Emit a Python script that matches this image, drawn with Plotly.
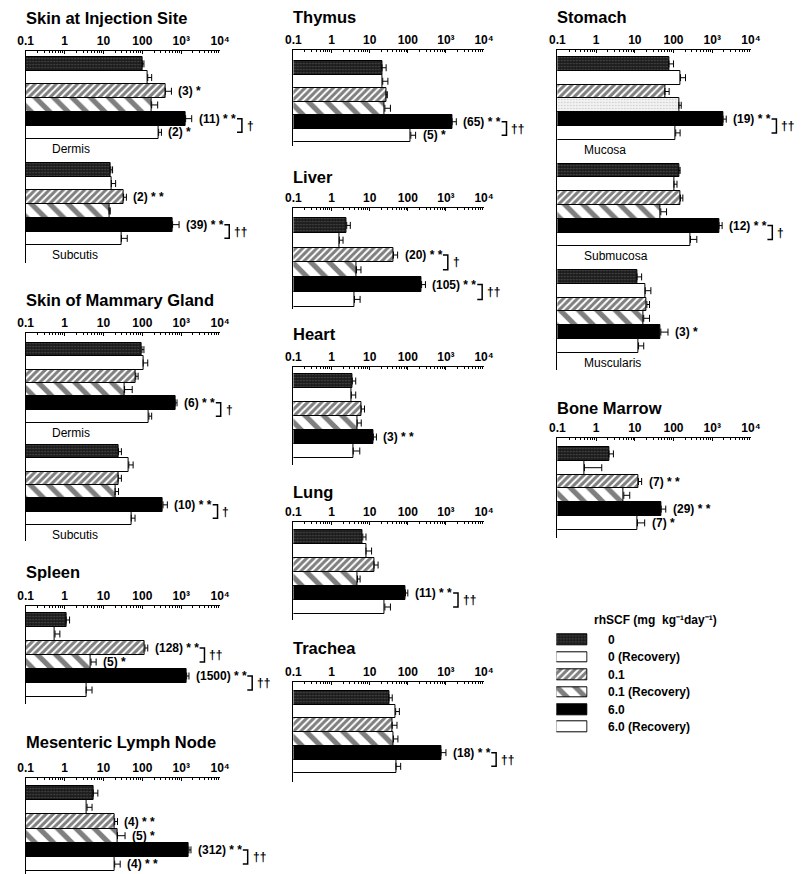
import math
import plotly.graph_objects as go

W, H = 802, 874
FONT = "Liberation Sans, Arial, Helvetica, sans-serif"

TREATMENTS = ["0", "0 (Recovery)", "0.1", "0.1 (Recovery)", "6.0", "6.0 (Recovery)"]
TICK_VALUES = [0.1, 1, 10, 100, 1000, 10000]
TICK_LABELS = ["0.1", "1", "10", "100", "10³", "10⁴"]

# ---- data: mean, upper end of error bar, significance notes ----
inj_dermis_mean = [100, 138, 390, 174, 1300, 263]
inj_dermis_err = [110, 174, 560, 248, 1860, 310]
inj_dermis_notes = ["", "", "(3) *", "", "(11) * *", "(2) *"]
inj_dermis_brackets = [(4, "†")]

inj_subcutis_mean = [15.5, 16, 33, 14, 600, 29]
inj_subcutis_err = [17.2, 20.6, 39, 15, 880, 41]
inj_subcutis_notes = ["", "", "(2) * *", "", "(39) * *", ""]
inj_subcutis_brackets = [(4, "††")]

mam_dermis_mean = [98, 105, 68, 35, 700, 148]
mam_dermis_err = [110, 138, 78, 55, 780, 174]
mam_dermis_notes = ["", "", "", "", "(6) * *", ""]
mam_dermis_brackets = [(4, "†")]

mam_subcutis_mean = [24.5, 45, 24, 20, 340, 52]
mam_subcutis_err = [29, 58, 29, 24.5, 440, 65]
mam_subcutis_notes = ["", "", "", "", "(10) * *", ""]
mam_subcutis_brackets = [(4, "†")]

spleen_mean = [1.1, 0.57, 117, 4.8, 1380, 3.6]
spleen_err = [1.35, 0.76, 138, 6.5, 1580, 5.1]
spleen_notes = ["", "", "(128) * *", "(5) *", "(1500) * *", ""]
spleen_brackets = [(2, "††"), (4, "††")]

mln_mean = [5.5, 3.8, 19.5, 23, 1580, 19.5]
mln_err = [7.2, 5.1, 23, 36, 1780, 27]
mln_notes = ["", "", "(4) * *", "(5) *", "(312) * *", "(4) * *"]
mln_brackets = [(4, "††")]

thymus_mean = [21, 22, 27, 25, 1450, 120]
thymus_err = [27, 30, 29, 35, 1870, 160]
thymus_notes = ["", "", "", "", "(65) * *", "(5) *"]
thymus_brackets = [(4, "††")]

liver_mean = [2.5, 1.6, 42, 4.5, 230, 4.0]
liver_err = [3.1, 2.0, 54, 5.9, 290, 5.6]
liver_notes = ["", "", "(20) * *", "", "(105) * *", ""]
liver_brackets = [(2, "†"), (4, "††")]

heart_mean = [3.5, 3.3, 6.0, 4.7, 12.5, 3.7]
heart_err = [4.3, 4.3, 7.3, 6.0, 15, 5.5]
heart_notes = ["", "", "", "", "(3) * *", ""]
heart_brackets = []

lung_mean = [6.6, 8.0, 13, 4.8, 87, 25]
lung_err = [8.0, 11.2, 16.6, 5.6, 100, 35]
lung_notes = ["", "", "", "", "(11) * *", ""]
lung_brackets = [(4, "††")]

trachea_mean = [32, 48, 39, 42, 740, 49]
trachea_err = [39, 60, 52, 55, 1000, 65]
trachea_notes = ["", "", "", "", "(18) * *", ""]
trachea_brackets = [(4, "††")]

sto_mucosa_mean = [76, 152, 60, 138, 1900, 114]
sto_mucosa_err = [100, 204, 77, 158, 2300, 148]
sto_mucosa_notes = ["", "", "", "", "(19) * *", ""]
sto_mucosa_brackets = [(4, "††")]

sto_submucosa_mean = [138, 103, 152, 47, 1500, 275]
sto_submucosa_err = [148, 123, 174, 66, 1800, 400]
sto_submucosa_notes = ["", "", "", "", "(12) * *", ""]
sto_submucosa_brackets = [(4, "†")]

sto_muscularis_mean = [11.4, 18.6, 20.5, 17, 47, 12.5]
sto_muscularis_err = [15, 26, 24, 24, 72, 17]
sto_muscularis_notes = ["", "", "", "", "(3) *", ""]
sto_muscularis_brackets = []

marrow_mean = [2.15, 0.5, 12.4, 5.2, 48, 11.7]
marrow_err = [2.8, 1.4, 15, 7.4, 63, 18]
marrow_notes = ["", "", "(7) * *", "", "(29) * *", "(7) *"]
marrow_brackets = []

# ---- bar styles ----
STYLE = {
    "0": dict(bg="#1c1c1c", pattern=dict(shape=".", fgcolor="#7a7a7a", bgcolor="#1c1c1c", size=3, solidity=0.25)),
    "0 (Recovery)": dict(bg="white", pattern=None),
    "0.1": dict(bg="white", pattern=dict(shape="/", fgcolor="black", bgcolor="white", size=5, solidity=0.6)),
    "0.1 (Recovery)": dict(bg="white", pattern=dict(shape="\\", fgcolor="black", bgcolor="white", size=13, solidity=0.4)),
    "6.0": dict(bg="black", pattern=None),
    "6.0 (Recovery)": dict(bg="white", pattern=None),
}
LIGHT_STIPPLE = dict(bg="#eeeeee", pattern=dict(shape=".", fgcolor="#9a9a9a", bgcolor="#f2f2f2", size=3, solidity=0.2))

# column pixel extents of the log axes (0.1 .. 10^4)
COLS = [(18, 217), (292, 487), (562, 760)]

PANELS = [
    dict(title="Skin at Injection Site", col=0, title_y=18, axis_y=51, bar_y=57, bar_h=13.7, stride=106, bottom=263,
         groups=[("Dermis", inj_dermis_mean, inj_dermis_err, inj_dermis_notes, inj_dermis_brackets, None),
                 ("Subcutis", inj_subcutis_mean, inj_subcutis_err, inj_subcutis_notes, inj_subcutis_brackets, None)]),
    dict(title="Skin of Mammary Gland", col=0, title_y=300, axis_y=333, bar_y=343, bar_h=13.3, stride=102, bottom=541,
         groups=[("Dermis", mam_dermis_mean, mam_dermis_err, mam_dermis_notes, mam_dermis_brackets, None),
                 ("Subcutis", mam_subcutis_mean, mam_subcutis_err, mam_subcutis_notes, mam_subcutis_brackets, None)]),
    dict(title="Spleen", col=0, title_y=572, axis_y=606, bar_y=613, bar_h=14, stride=0, bottom=704,
         groups=[("", spleen_mean, spleen_err, spleen_notes, spleen_brackets, None)]),
    dict(title="Mesenteric Lymph Node", col=0, title_y=742, axis_y=778, bar_y=786, bar_h=14.2, stride=0, bottom=874,
         groups=[("", mln_mean, mln_err, mln_notes, mln_brackets, None)]),
    dict(title="Thymus", col=1, title_y=17, axis_y=50, bar_y=61, bar_h=13.5, stride=0, bottom=146,
         groups=[("", thymus_mean, thymus_err, thymus_notes, thymus_brackets, None)]),
    dict(title="Liver", col=1, title_y=177, axis_y=208, bar_y=218, bar_h=14.8, stride=0, bottom=309,
         groups=[("", liver_mean, liver_err, liver_notes, liver_brackets, None)]),
    dict(title="Heart", col=1, title_y=334, axis_y=367, bar_y=374, bar_h=14, stride=0, bottom=465,
         groups=[("", heart_mean, heart_err, heart_notes, heart_brackets, None)]),
    dict(title="Lung", col=1, title_y=492, axis_y=522, bar_y=530, bar_h=14, stride=0, bottom=620,
         groups=[("", lung_mean, lung_err, lung_notes, lung_brackets, None)]),
    dict(title="Trachea", col=1, title_y=648, axis_y=682, bar_y=691, bar_h=13.7, stride=0, bottom=782,
         groups=[("", trachea_mean, trachea_err, trachea_notes, trachea_brackets, None)]),
    dict(title="Stomach", col=2, title_y=17, axis_y=50, bar_y=57, bar_h=13.8, stride=106.5, bottom=370,
         groups=[("Mucosa", sto_mucosa_mean, sto_mucosa_err, sto_mucosa_notes, sto_mucosa_brackets, {3: LIGHT_STIPPLE}),
                 ("Submucosa", sto_submucosa_mean, sto_submucosa_err, sto_submucosa_notes, sto_submucosa_brackets, None),
                 ("Muscularis", sto_muscularis_mean, sto_muscularis_err, sto_muscularis_notes, sto_muscularis_brackets, None)]),
    dict(title="Bone Marrow", col=2, title_y=408, axis_y=438, bar_y=447, bar_h=13.8, stride=0, bottom=538,
         groups=[("", marrow_mean, marrow_err, marrow_notes, marrow_brackets, None)]),
]

BOLD_W = {"(": 333, ")": 333, " ": 278, "*": 389}
NOTE_SIZE = 12
TITLE_SIZE = 16.5


def text_width(s, size):
    return sum(BOLD_W.get(c, 556) for c in s) * size / 1000.0


def px_x(col, v):
    x0, x1 = COLS[col]
    return x0 + (math.log10(v) + 1) / 5.0 * (x1 - x0)


def fx(px):
    return px / W


def fy(py):
    return 1 - py / H


fig = go.Figure()
layout = dict(width=W, height=H, margin=dict(l=0, r=0, t=0, b=0),
              paper_bgcolor="white", plot_bgcolor="rgba(0,0,0,0)",
              showlegend=False, font=dict(family=FONT, size=12, color="black"))
annotations = []
shapes = []

for i, p in enumerate(PANELS, start=1):
    xa = "xaxis" if i == 1 else f"xaxis{i}"
    ya = "yaxis" if i == 1 else f"yaxis{i}"
    xr = "x" if i == 1 else f"x{i}"
    yr = "y" if i == 1 else f"y{i}"
    col = p["col"]
    x0, x1 = COLS[col]
    bh = p["bar_h"]
    y_top = (p["axis_y"] - p["bar_y"]) / bh
    y_bot = (p["bottom"] - p["bar_y"]) / bh

    layout[xa] = dict(type="log", range=[-1, 4], domain=[fx(x0), fx(x1)], anchor=yr, side="top",
                      showline=True, linecolor="black", linewidth=1, showgrid=False, zeroline=False,
                      tickmode="array", tickvals=TICK_VALUES, ticktext=TICK_LABELS,
                      ticks="inside", ticklen=3, tickwidth=1, tickcolor="black",
                      minor=dict(ticks="inside", ticklen=2, tickwidth=1, tickcolor="black", dtick="D1", showgrid=False),
                      tickfont=dict(family=FONT, size=12, color="black", weight="bold"),
                      fixedrange=True)
    layout[ya] = dict(range=[y_bot, y_top], domain=[fy(p["bottom"]), fy(p["axis_y"])], anchor=xr,
                      showline=True, linecolor="black", linewidth=1, showgrid=False, zeroline=False,
                      showticklabels=False, ticks="", fixedrange=True)

    annotations.append(dict(text=f"<b>{p['title']}</b>", xref="paper", yref="paper",
                            x=fx(x0 - 2), y=fy(p["title_y"]), xanchor="left", yanchor="middle",
                            showarrow=False, font=dict(family=FONT, size=TITLE_SIZE, color="black")))

    for g, (glabel, means, errs, notes, brackets, overrides) in enumerate(p["groups"]):
        off = g * p["stride"] / bh
        for k, name in enumerate(TREATMENTS):
            st = STYLE[name]
            if overrides and k in overrides:
                st = overrides[k]
            marker = dict(color=st["bg"], line=dict(color="black", width=1))
            if st["pattern"]:
                marker["pattern"] = st["pattern"]
            fig.add_trace(go.Bar(
                x=[means[k]], y=[off + k + 0.5], orientation="h", width=1,
                marker=marker, name=name, xaxis=xr, yaxis=yr,
                error_x=dict(type="data", symmetric=False, array=[errs[k] - means[k]], arrayminus=[0],
                             color="black", thickness=1, width=3.5),
                hoverinfo="skip"))
            if notes[k]:
                annotations.append(dict(text=f"<b>{notes[k]}</b>", xref=xr, yref=yr,
                                        x=math.log10(errs[k]), y=off + k + 0.5, xanchor="left", yanchor="middle",
                                        xshift=5, showarrow=False,
                                        font=dict(family=FONT, size=NOTE_SIZE, color="black")))
        for (k, dag) in brackets:
            bx = px_x(col, errs[k]) + 5 + text_width(notes[k], NOTE_SIZE) + 9
            ya_px = p["bar_y"] + g * p["stride"] + (k + 0.5) * bh
            yb_px = ya_px + bh
            shapes.append(dict(type="path", xref="paper", yref="paper",
                               path=f"M {fx(bx - 5)} {fy(ya_px)} L {fx(bx)} {fy(ya_px)} L {fx(bx)} {fy(yb_px)} L {fx(bx - 5)} {fy(yb_px)}",
                               line=dict(color="black", width=1.5)))
            annotations.append(dict(text=f"<b>{dag}</b>", xref="paper", yref="paper",
                                    x=fx(bx + 3), y=fy((ya_px + yb_px) / 2), xanchor="left", yanchor="middle",
                                    showarrow=False, font=dict(family=FONT, size=12, color="black")))
        if glabel:
            ly = p["bar_y"] + g * p["stride"] + 6 * bh + 10
            annotations.append(dict(text=glabel, xref="paper", yref="paper", x=fx(x0 + 25), y=fy(ly),
                                    xanchor="left", yanchor="middle", showarrow=False,
                                    font=dict(family=FONT, size=12, color="black")))

# ---- legend drawn as a small swatch panel ----
li = len(PANELS) + 1
lxa, lya, lxr, lyr = f"xaxis{li}", f"yaxis{li}", f"x{li}", f"y{li}"
LEG_X0, LEG_X1 = 562, 592
LEG_ROW0, LEG_ROW_H = 640, 17.4
layout[lxa] = dict(range=[0, 1], domain=[fx(LEG_X0 - 1), fx(LEG_X1 + 1)], anchor=lyr, visible=False, fixedrange=True)
layout[lya] = dict(range=[5.5, -0.5], domain=[fy(LEG_ROW0 + 5.5 * LEG_ROW_H), fy(LEG_ROW0 - 0.5 * LEG_ROW_H)],
                   anchor=lxr, visible=False, fixedrange=True)
for k, name in enumerate(TREATMENTS):
    st = STYLE[name]
    marker = dict(color=st["bg"], line=dict(color="black", width=1))
    if st["pattern"]:
        marker["pattern"] = st["pattern"]
    fig.add_trace(go.Bar(x=[1], y=[k], orientation="h", width=0.6, marker=marker, name=name,
                         xaxis=lxr, yaxis=lyr, hoverinfo="skip"))
    annotations.append(dict(text=f"<b>{name}</b>", xref="paper", yref="paper",
                            x=fx(612), y=fy(LEG_ROW0 + k * LEG_ROW_H), xanchor="left", yanchor="middle",
                            showarrow=False, font=dict(family=FONT, size=12, color="black")))
annotations.append(dict(text="<b>rhSCF (mg  kg⁻¹day⁻¹)</b>", xref="paper", yref="paper",
                        x=fx(597), y=fy(620), xanchor="left", yanchor="middle", showarrow=False,
                        font=dict(family=FONT, size=12, color="black")))

layout["annotations"] = annotations
layout["shapes"] = shapes
layout["bargap"] = 0
fig.update_layout(**layout)
fig.write_html("out.html")
